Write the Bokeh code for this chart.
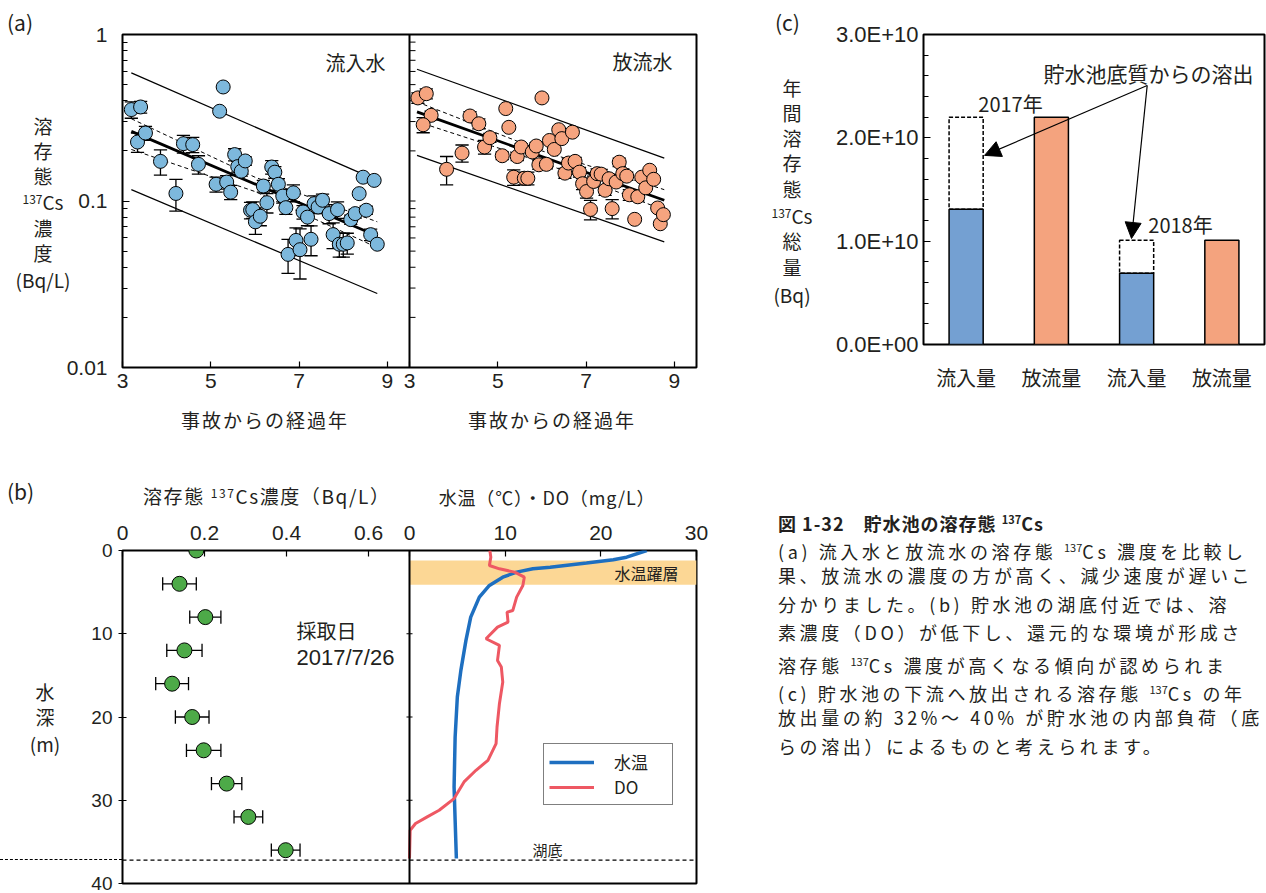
from bokeh.plotting import figure
from bokeh.models import (Range1d, FixedTicker, Label, Arrow, NormalHead, BoxAnnotation,
                          Span, Legend, LegendItem, Div)
from bokeh.layouts import row, column
from bokeh.embed import file_html
from bokeh.resources import INLINE

FONT = "Noto Sans CJK JP"
NUMFONT = "Liberation Sans"
TXT = "#231F20"
IN_C = "#7DB8DC"
OUT_C = "#F6A47F"
BAR_BLUE = "#74A0D2"
BAR_ORANGE = "#F4A37E"
GREEN = "#4DAA48"
TEMP_C = "#1E6FC0"
DO_C = "#EE5863"
BAND_C = "#FCD795"

# ---------------- (a) data ----------------
a_year_range = (3, 9.5)
a_year_ticks = [3, 5, 7, 9]
a_conc_ticks = [0.01, 0.1, 1]
a_conc_labels = ["0.01", "0.1", "1"]

in_year = [3.20, 3.41, 3.34, 3.52, 3.86, 4.21, 4.38, 4.59, 4.72, 5.12, 5.28, 5.20, 5.36, 5.45, 5.54,
           5.61, 5.69, 5.78, 5.90, 5.95, 6.01, 6.12, 6.19, 6.27, 6.38, 6.45, 6.53, 6.63, 6.70, 6.75,
           6.87, 6.93, 7.02, 7.09, 7.19, 7.27, 7.34, 7.43, 7.53, 7.68, 7.77, 7.87, 7.91, 8.00, 8.09,
           8.17, 8.27, 8.36, 8.45, 8.52, 8.62, 8.70, 8.77]
in_conc = [0.354, 0.367, 0.226, 0.256, 0.173, 0.111, 0.221, 0.218, 0.166, 0.126, 0.484, 0.346, 0.130,
           0.113, 0.190, 0.161, 0.151, 0.174, 0.088, 0.0887, 0.075, 0.081, 0.123, 0.0977, 0.160, 0.149,
           0.126, 0.107, 0.0912, 0.0478, 0.112, 0.058, 0.051, 0.0859, 0.080, 0.0589, 0.0964, 0.092,
           0.101, 0.084, 0.0628, 0.0887, 0.055, 0.055, 0.056, 0.0773, 0.084, 0.1107, 0.139, 0.088,
           0.0628, 0.133, 0.055]
in_err = [0.04, 0.03, 0.03, 0.025, 0.03, 0.024, 0.027, 0.023, 0.021, 0.013, 0, 0, 0.012, 0.011, 0.016,
          0.012, 0.010, 0.010, 0.010, 0.010, 0.012, 0.010, 0.010, 0.013, 0.015, 0.012, 0.010, 0.010,
          0.008, 0.011, 0.013, 0.011, 0.017, 0.008, 0.009, 0.012, 0.011, 0.008, 0.009, 0.011, 0.011,
          0.010, 0.009, 0.009, 0.008, 0.005, 0.005, 0, 0, 0.005, 0.005, 0, 0]
in_fit_year = [3.2, 8.77]
in_fit_conc = [0.262, 0.0616]
in_pred_hi = [0.588, 0.133]
in_pred_lo = [0.117, 0.0278]
in_ci_year = [3.2, 6.0, 8.77]
in_ci_hi = [0.312, 0.139, 0.075]
in_ci_lo = [0.204, 0.114, 0.0525]

out_year = [3.19, 3.38, 3.49, 3.31, 3.84, 4.19, 4.37, 4.57, 4.70, 4.82, 5.10, 5.18, 5.25, 5.36, 5.44,
            5.53, 5.60, 5.68, 5.78, 5.87, 5.93, 6.00, 6.10, 6.17, 6.28, 6.38, 6.45, 6.52, 6.60, 6.69,
            6.75, 6.85, 6.92, 7.01, 7.10, 7.17, 7.25, 7.34, 7.43, 7.52, 7.59, 7.68, 7.75, 7.83, 7.92,
            7.98, 8.10, 8.17, 8.26, 8.35, 8.44, 8.53, 8.62, 8.68, 8.75]
out_conc = [0.416, 0.441, 0.327, 0.287, 0.155, 0.194, 0.324, 0.291, 0.211, 0.240, 0.187, 0.359, 0.277,
            0.139, 0.185, 0.211, 0.137, 0.137, 0.197, 0.214, 0.165, 0.416, 0.166, 0.231, 0.204, 0.268,
            0.237, 0.147, 0.169, 0.259, 0.173, 0.149, 0.127, 0.114, 0.089, 0.131, 0.146, 0.145, 0.116,
            0.136, 0.090, 0.130, 0.171, 0.146, 0.141, 0.109, 0.0776, 0.106, 0.139, 0.120, 0.153, 0.135,
            0.0908, 0.073, 0.0828]
out_err = [0.03, 0.03, 0.02, 0.03, 0.03, 0.023, 0.02, 0.02, 0.02, 0.015, 0.01, 0, 0, 0.015, 0.01,
           0.01, 0.012, 0.012, 0.008, 0.01, 0.01, 0, 0.01, 0.01, 0, 0, 0, 0.01, 0.01, 0,
           0.01, 0.01, 0.01, 0.01, 0.012, 0.01, 0.01, 0.01, 0.008, 0.008, 0.012, 0.008, 0.01, 0.01,
           0.008, 0.008, 0, 0.006, 0, 0, 0, 0, 0, 0, 0]
out_fit_year = [3.17, 8.77]
out_fit_conc = [0.343, 0.101]
out_pred_hi = [0.618, 0.181]
out_pred_lo = [0.188, 0.0568]
out_ci_year = [3.17, 6.0, 8.77]
out_ci_hi = [0.394, 0.200, 0.117]
out_ci_lo = [0.30, 0.171, 0.088]

# ---------------- (b) data ----------------
b_conc_range = (0, 0.7)
b_tdo_range = (0, 30)
b_conc_ticks = [0, 0.2, 0.4, 0.6]
b_conc_labels = ["0", "0.2", "0.4", "0.6"]
b_tdo_ticks = [0, 10, 20, 30]
b_depth_ticks = [0, 10, 20, 30, 40]
cs_depth = [0, 4, 8, 12, 16, 20, 24, 28, 32, 36]
cs_conc = [0.180, 0.139, 0.202, 0.151, 0.121, 0.170, 0.198, 0.254, 0.307, 0.398]
cs_err = [0, 0.041, 0.038, 0.043, 0.040, 0.041, 0.042, 0.037, 0.035, 0.035]
temp_val = [24.8, 22.7, 21.3, 18.5, 14.7, 12.9, 11.2, 9.75, 8.35, 7.3, 6.4, 5.9, 5.37, 5.0, 4.77,
            4.66, 4.77, 4.9]
temp_depth = [0.0, 0.8, 1.1, 1.5, 2.0, 2.2, 2.6, 3.2, 4.2, 5.6, 8.0, 10.8, 14.4, 17.6, 22.4,
              28.4, 32.4, 37.0]
do_val = [8.4, 8.5, 8.35, 9.4, 11.0, 12.0, 11.85, 11.2, 10.8, 10.2, 10.3, 9.2, 8.0, 9.4, 9.2, 9.6,
          9.75, 9.4, 9.15, 9.05, 8.2, 6.95, 5.7, 4.66, 3.1, 1.85, 0.63, 0.07, 0.0]
do_depth = [0.0, 0.8, 1.8, 2.2, 2.6, 3.2, 4.2, 5.6, 7.2, 7.4, 8.6, 9.2, 10.6, 11.4, 13.2, 14.0,
            15.8, 18.4, 21.2, 23.2, 25.2, 26.4, 27.8, 29.8, 31.2, 32.0, 32.8, 33.6, 37.0]
thermocline = (1.2, 4.1)
lake_bottom = 37.2

# ---------------- (c) data ----------------
c_categories = ["流入量", "放流量", "流入量", "放流量"]
c_years = ["2017年", "2018年"]
inflow = [1.31e10, 0.69e10]
outflow = [2.20e10, 1.01e10]
c_yticks = [0, 1e10, 2e10, 3e10]
c_ylabels = ["0.0E+00", "1.0E+10", "2.0E+10", "3.0E+10"]

caption_title = "図 1-32　貯水池の溶存態 137Cs"
caption_lines = [
    "(a) 流入水と放流水の溶存態 137Cs 濃度を比較し",
    "果、放流水の濃度の方が高く、減少速度が遅いこ",
    "分かりました。(b) 貯水池の湖底付近では、溶",
    "素濃度（DO）が低下し、還元的な環境が形成さ",
    "溶存態 137Cs 濃度が高くなる傾向が認められま",
    "(c) 貯水池の下流へ放出される溶存態 137Cs の年",
    "放出量の約 32%～ 40% が貯水池の内部負荷（底",
    "らの溶出）によるものと考えられます。",
]


def make_fig(width, height, left, right, top, bottom, **kw):
    p = figure(width=width, height=height, min_border_left=left, min_border_right=right,
               min_border_top=top, min_border_bottom=bottom, output_backend="svg",
               toolbar_location=None, title=None, **kw)
    p.outline_line_color = "black"
    p.outline_line_width = 2
    p.xgrid.visible = False
    p.ygrid.visible = False
    p.background_fill_color = "white"
    p.border_fill_color = "white"
    for ax in list(p.xaxis) + list(p.yaxis):
        ax.axis_line_color = None
        ax.major_label_text_font = NUMFONT
        ax.major_label_text_font_size = "20px"
        ax.major_label_text_color = TXT
        ax.major_tick_line_color = "black"
        ax.minor_tick_line_color = "black"
        ax.major_tick_line_width = 1.2
    return p


def label(p, text, sx, sy, size=19, align="center", font=FONT):
    p.add_layout(Label(x=sx, y=sy, x_units="screen", y_units="screen", text=text,
                       text_font=font, text_font_size=f"{size}px", text_align=align,
                       text_baseline="middle", text_color=TXT))


# ================= figure (a) =================
A_FRAME_W = 574
a_shift = a_year_range[1] - a_year_range[0]
pa = make_fig(760, 450, 122, 64, 34, 83,
              x_range=Range1d(a_year_range[0], a_year_range[1] + a_shift),
              y_range=Range1d(a_conc_ticks[0], a_conc_ticks[-1]), y_axis_type="log")
pa.extra_x_ranges = {"a2": Range1d(a_year_range[0] - a_shift, a_year_range[1])}
a_over = {float(t): str(t) for t in a_year_ticks}
a_over.update({float(t + a_shift): str(t) for t in a_year_ticks})
pa.xaxis.ticker = FixedTicker(ticks=sorted(a_over))
pa.xaxis.major_label_overrides = a_over
pa.xaxis.major_label_text_font_size = "21px"
pa.xaxis.major_tick_in = 6
pa.xaxis.major_tick_out = 0
pa.xaxis.major_label_standoff = 6
a_minor = [m * 10.0 ** e for e in (-2, -1) for m in range(2, 10)]
pa.yaxis.ticker = FixedTicker(ticks=a_conc_ticks, minor_ticks=a_minor)
pa.yaxis.major_label_overrides = {float(v): s for v, s in zip(a_conc_ticks, a_conc_labels)}
pa.yaxis.major_label_text_font_size = "21px"
pa.yaxis.major_tick_in = 7
pa.yaxis.major_tick_out = 0
pa.yaxis.minor_tick_in = 5
pa.yaxis.minor_tick_out = 0
pa.yaxis.major_label_standoff = 15

pa.add_layout(Span(location=a_year_range[1], dimension="height", line_color="black", line_width=2))
px_a = (a_year_range[1] + a_shift - a_year_range[0]) / A_FRAME_W
inner = a_conc_ticks + a_minor
pa.segment([a_year_range[1]] * len(inner), inner,
           [a_year_range[1] + 6 * px_a] * len(inner), inner, line_color="black", line_width=1)


def draw_a(p, year, conc, err, fx, fy, ph, pl, cx, ch, cl, color, rname):
    kw = {} if rname is None else {"x_range_name": rname}
    p.line(fx, ph, line_color="black", line_width=1.2, **kw)
    p.line(fx, pl, line_color="black", line_width=1.2, **kw)
    p.line(cx, ch, line_color="black", line_width=1, line_dash="4 3", **kw)
    p.line(cx, cl, line_color="black", line_width=1, line_dash="4 3", **kw)
    p.line(fx, fy, line_color="black", line_width=2.8, **kw)
    ex = [x for x, e in zip(year, err) if e > 0]
    hi = [c + e for c, e in zip(conc, err) if e > 0]
    lo = [c - e for c, e in zip(conc, err) if e > 0]
    cap = 0.15
    p.segment(ex, lo, ex, hi, line_color="black", line_width=1.3, **kw)
    p.segment([x - cap for x in ex], hi, [x + cap for x in ex], hi, line_color="black", line_width=1.3, **kw)
    p.segment([x - cap for x in ex], lo, [x + cap for x in ex], lo, line_color="black", line_width=1.3, **kw)
    p.scatter(year, conc, size=14, fill_color=color, line_color="black", line_width=1, **kw)


draw_a(pa, in_year, in_conc, in_err, in_fit_year, in_fit_conc, in_pred_hi, in_pred_lo,
       in_ci_year, in_ci_hi, in_ci_lo, IN_C, None)
draw_a(pa, out_year, out_conc, out_err, out_fit_year, out_fit_conc, out_pred_hi, out_pred_lo,
       out_ci_year, out_ci_hi, out_ci_lo, OUT_C, "a2")
label(pa, "流入水", 263, 305, 20, align="right")
label(pa, "放流水", 550, 306, 20, align="right")

# ================= figure (c) =================
pc = make_fig(506, 450, 163, 2, 34, 106, x_range=Range1d(0, len(c_categories)),
              y_range=Range1d(c_yticks[0], c_yticks[-1]))
cx = [i + 0.5 for i in range(len(c_categories))]
in_x = cx[0::2]
out_x = cx[1::2]
pc.vbar(x=in_x, bottom=0, top=inflow, width=0.4, fill_color=BAR_BLUE, line_color="black", line_width=1.5)
pc.vbar(x=in_x, bottom=inflow, top=outflow, width=0.4, fill_color=None, line_color="black",
        line_width=1.5, line_dash="4 2")
pc.vbar(x=out_x, bottom=0, top=outflow, width=0.4, fill_color=BAR_ORANGE, line_color="black", line_width=1.5)
pc.xaxis.ticker = FixedTicker(ticks=cx)
pc.xaxis.major_label_overrides = {float(x): s for x, s in zip(cx, c_categories)}
pc.xaxis.major_label_text_font = FONT
pc.xaxis.major_tick_in = 0
pc.xaxis.major_tick_out = 0
pc.xaxis.major_label_standoff = 18
pc.yaxis.ticker = FixedTicker(ticks=c_yticks, minor_ticks=[i * 2e9 for i in range(16)])
pc.yaxis.major_label_overrides = {float(v): s for v, s in zip(c_yticks, c_ylabels)}
pc.yaxis.major_label_text_font_size = "22px"
pc.yaxis.major_tick_in = 7
pc.yaxis.major_tick_out = 0
pc.yaxis.minor_tick_in = 5
pc.yaxis.minor_tick_out = 0
pc.yaxis.major_label_standoff = 5

for xe, ye in [(0.716, 1.83e10), (2.44, 1.026e10)]:
    pc.add_layout(Arrow(end=NormalHead(size=16, fill_color="black", line_color="black", line_width=1),
                        x_start=2.624, y_start=2.506e10, x_end=xe, y_end=ye,
                        line_color="black", line_width=1.2))
label(pc, "貯水池底質からの溶出", 225, 272, 21)
label(pc, c_years[0], 87, 241, 20)
label(pc, c_years[1], 257, 120, 20)

# ================= figure (b) =================
B_FRAME_W = 574
b_split = b_conc_range[1]
pb = make_fig(760, 443, 122, 64, 100, 10, x_range=Range1d(b_conc_range[0], 2 * b_split),
              y_range=Range1d(b_depth_ticks[-1], b_depth_ticks[0]), x_axis_location="above")
pb.extra_x_ranges = {"b2": Range1d(-b_tdo_range[1], b_tdo_range[1])}
b_map = [b_split + t / b_tdo_range[1] * b_split for t in b_tdo_ticks]
b_over = {float(v): s for v, s in zip(b_conc_ticks, b_conc_labels)}
b_over.update({float(v): str(t) for v, t in zip(b_map, b_tdo_ticks)})
pb.xaxis.ticker = FixedTicker(ticks=b_conc_ticks + b_map)
pb.xaxis.major_label_overrides = b_over
pb.xaxis.major_label_text_font_size = "21px"
pb.xaxis.major_tick_in = 6
pb.xaxis.major_tick_out = 0
pb.xaxis.major_label_standoff = 11
pb.yaxis.ticker = FixedTicker(ticks=b_depth_ticks)
pb.yaxis.major_label_text_font_size = "19px"
pb.yaxis.major_tick_in = 4
pb.yaxis.major_tick_out = 4
pb.yaxis.major_label_standoff = 6

pb.add_layout(BoxAnnotation(top=thermocline[0], bottom=thermocline[1], left=b_split,
                            fill_color=BAND_C, fill_alpha=1, line_color=None, level="underlay"))
pb.add_layout(Span(location=b_split, dimension="height", line_color="black", line_width=2))
px_b = 2 * b_split / B_FRAME_W
mid_t = b_depth_ticks[1:-1]
pb.segment([b_split - 3 * px_b] * len(mid_t), mid_t, [b_split + 3 * px_b] * len(mid_t), mid_t,
           line_color="black", line_width=1.2)
pb.add_layout(Span(location=lake_bottom, dimension="width", line_color="black", line_width=1.3,
                   line_dash="4 3"))

r_t = pb.line(temp_val, temp_depth, x_range_name="b2", line_color=TEMP_C, line_width=3.5)
r_do = pb.line(do_val, do_depth, x_range_name="b2", line_color=DO_C, line_width=3)

ex = [c for c, e in zip(cs_conc, cs_err) if e > 0]
ey = [d for d, e in zip(cs_depth, cs_err) if e > 0]
ee = [e for e in cs_err if e > 0]
capd = 0.8
pb.segment([c - e for c, e in zip(ex, ee)], ey, [c + e for c, e in zip(ex, ee)], ey,
           line_color="black", line_width=1.3)
for sgn in (-1, 1):
    xs = [c + sgn * e for c, e in zip(ex, ee)]
    pb.segment(xs, [d - capd for d in ey], xs, [d + capd for d in ey], line_color="black", line_width=1.3)
pb.scatter(cs_conc, cs_depth, size=15, fill_color=GREEN, line_color="black", line_width=1)

legend = Legend(items=[LegendItem(label="水温", renderers=[r_t]), LegendItem(label="DO", renderers=[r_do])],
                location=(421, 78), border_line_color="black", border_line_width=1,
                label_text_font=FONT, label_text_font_size="17px", label_text_color=TXT,
                glyph_width=45, glyph_height=20, label_standoff=20, label_width=53,
                padding=5, spacing=0, margin=0,
                background_fill_color="white", background_fill_alpha=1)
pb.add_layout(legend)

label(pb, "採取日", 174, 253, 20, align="left")
label(pb, "2017/7/26", 174, 226, 22, align="left", font=NUMFONT)
label(pb, "水温躍層", 556, 311, 16, align="right")
label(pb, "湖底", 425, 34, 15)

# ================= caption =================
SUP = '<span style="font-size:11px;letter-spacing:0;vertical-align:7px">137</span>Cs'


def sup(s):
    return s.replace("137Cs", SUP)


lines_html = "".join(f'<div style="height:28.4px;line-height:28.4px">{sup(t)}</div>' for t in caption_lines)
html = (f'<div style="box-sizing:border-box;width:506px;height:443px;padding:55px 0 0 18px;'
        f'overflow:hidden;white-space:nowrap;font-family:\'{FONT}\';font-size:18px;'
        f'letter-spacing:3.6px;color:{TXT}">'
        f'<div style="height:28px;line-height:28px;font-weight:bold;letter-spacing:1px">{sup(caption_title)}</div>'
        f'{lines_html}</div>')
cap = Div(text=html, width=506, height=443, margin=0)

# ================= texts outside the plot frames (overlay) =================
ROWS_H = 450 + 443


def t(x, y, text, size=19, anchor="c", extra=""):
    tr = {"c": "translate(-50%,-50%)", "l": "translate(0,-50%)", "r": "translate(-100%,-50%)"}[anchor]
    return (f'<div style="position:absolute;left:{x}px;top:{y}px;transform:{tr};font-size:{size}px;'
            f'line-height:1;white-space:nowrap;{extra}">{text}</div>')


CS = '<span style="font-size:12px;vertical-align:6px">137</span>Cs'
items = []
items.append(t(7, 22, "(a)", 21, "l"))
for ch, y in [("溶", 125), ("存", 150), ("態", 175), (CS, 201), ("濃", 227), ("度", 252), ("(Bq/L)", 279)]:
    items.append(t(43, y, ch))
items.append(t(265, 419, "事故からの経過年", 19, "c", "letter-spacing:2px"))
items.append(t(552, 419, "事故からの経過年", 19, "c", "letter-spacing:2px"))
items.append(t(775, 22, "(c)", 21, "l"))
for ch, y in [("年", 87), ("間", 112), ("溶", 137), ("存", 162), ("態", 188), (CS, 215), ("総", 240),
              ("量", 266), ("(Bq)", 294)]:
    items.append(t(792, y, ch))
items.append(t(7, 491, "(b)", 21, "l"))
items.append(t(143, 495, "溶存態 " + CS + "濃度（Bq/L）", 19, "l", "letter-spacing:1.6px"))
items.append(t(547, 497, "水温（℃）・DO（mg/L）", 18, "c", "letter-spacing:0.8px"))
for ch, y in [("水", 691), ("深", 716), ("(m)", 743)]:
    items.append(t(45, y, ch))
y_bottom = 550 + 333 * (lake_bottom - b_depth_ticks[0]) / (b_depth_ticks[-1] - b_depth_ticks[0])
items.append(f'<div style="position:absolute;left:0;top:{y_bottom - 0.7:.1f}px;width:122px;height:0;'
             f'border-top:1.3px dashed #000"></div>')
overlay_html = (f'<div style="position:relative;left:0;top:-{ROWS_H}px;width:1266px;height:{ROWS_H}px;'
                f'font-family:\'{FONT}\';color:{TXT};pointer-events:none">' + "".join(items) + '</div>')
overlay = Div(text=overlay_html, width=1266, height=0, margin=0, styles={"overflow": "visible"})

layout = column(row(column(pa, pb), column(pc, cap)), overlay)
open("out.html", "w").write(file_html(layout, INLINE))
